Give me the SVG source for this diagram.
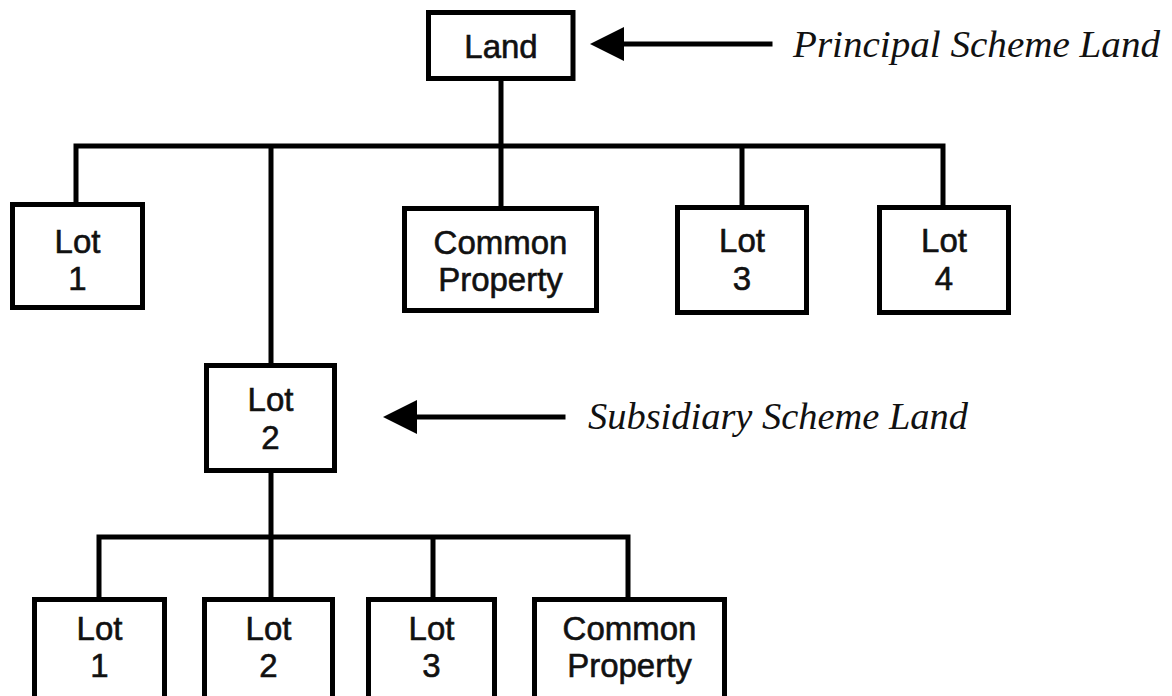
<svg xmlns="http://www.w3.org/2000/svg" width="1172" height="696" viewBox="0 0 1172 696">
  <style>
    .box { fill: #ffffff; stroke: #000000; stroke-width: 5; }
    .wire { fill: none; stroke: #000000; stroke-width: 5; stroke-linecap: square; }
    .lbl { font-family: "Liberation Sans", Arial, sans-serif; font-size: 33px; fill: #111111; stroke: #111111; stroke-width: 0.6; text-anchor: middle; }
    .note { font-family: "Liberation Serif", "Times New Roman", serif; font-style: italic; font-size: 38px; fill: #111111; }
    .head { fill: #000000; }
  </style>
  <rect width="1172" height="696" fill="#ffffff"/>

  <!-- connectors -->
  <g id="connectors">
    <path class="wire" d="M501 80 V146 M76 146 H943 M76 146 V204 M271 146 V365 M501 146 V208 M742 146 V207 M943 146 V207"/>
    <path class="wire" d="M271 473 V537 M99 537 H628 M99 537 V597 M271 537 V597 M433 537 V597 M628 537 V597"/>
  </g>

  <!-- principal scheme -->
  <g id="land">
    <rect class="box" x="428.5" y="12.5" width="144.5" height="66"/>
    <text class="lbl" x="501" y="58">Land</text>
  </g>
  <g id="top-lot1">
    <rect class="box" x="12.5" y="204.5" width="130" height="103"/>
    <text class="lbl" x="77.5" y="253">Lot</text>
    <text class="lbl" x="77.5" y="290">1</text>
  </g>
  <g id="top-common">
    <rect class="box" x="404.5" y="208.5" width="192" height="102"/>
    <text class="lbl" x="500.5" y="254">Common</text>
    <text class="lbl" x="500.5" y="291">Property</text>
  </g>
  <g id="top-lot3">
    <rect class="box" x="677.5" y="207.5" width="129" height="105"/>
    <text class="lbl" x="742" y="252">Lot</text>
    <text class="lbl" x="742" y="290">3</text>
  </g>
  <g id="top-lot4">
    <rect class="box" x="879.5" y="207.5" width="129" height="105"/>
    <text class="lbl" x="944" y="252">Lot</text>
    <text class="lbl" x="944" y="290">4</text>
  </g>

  <!-- subsidiary scheme -->
  <g id="lot2">
    <rect class="box" x="206.5" y="365.5" width="128" height="105"/>
    <text class="lbl" x="270.5" y="411">Lot</text>
    <text class="lbl" x="270.5" y="449">2</text>
  </g>
  <g id="sub-lot1">
    <rect class="box" x="34.5" y="599.5" width="130" height="120"/>
    <text class="lbl" x="99.5" y="640">Lot</text>
    <text class="lbl" x="99.5" y="677">1</text>
  </g>
  <g id="sub-lot2">
    <rect class="box" x="204.5" y="599.5" width="128" height="120"/>
    <text class="lbl" x="268.5" y="640">Lot</text>
    <text class="lbl" x="268.5" y="677">2</text>
  </g>
  <g id="sub-lot3">
    <rect class="box" x="368.5" y="599.5" width="126" height="120"/>
    <text class="lbl" x="431.5" y="640">Lot</text>
    <text class="lbl" x="431.5" y="677">3</text>
  </g>
  <g id="sub-common">
    <rect class="box" x="534.5" y="599.5" width="190" height="120"/>
    <text class="lbl" x="629.5" y="640">Common</text>
    <text class="lbl" x="629.5" y="677">Property</text>
  </g>

  <!-- callouts -->
  <g id="principal-callout">
    <path class="wire" d="M622 44 H770" stroke-linecap="butt"/>
    <polygon class="head" points="590,44 624,27 624,61"/>
    <text class="note" x="793" y="57" textLength="367" lengthAdjust="spacingAndGlyphs">Principal Scheme Land</text>
  </g>
  <g id="subsidiary-callout">
    <path class="wire" d="M415 417 H563" stroke-linecap="butt"/>
    <polygon class="head" points="383,417 417,400 417,434"/>
    <text class="note" x="588" y="429" textLength="380" lengthAdjust="spacingAndGlyphs">Subsidiary Scheme Land</text>
  </g>
</svg>
